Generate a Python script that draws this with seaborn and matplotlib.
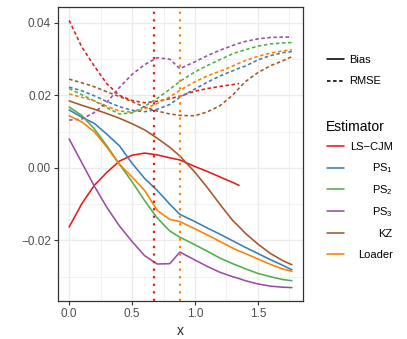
"""
Bias and RMSE of the estimators along x
"""

import numpy as np
import pandas as pd
import matplotlib
matplotlib.use("Agg")
import matplotlib.pyplot as plt
from matplotlib.lines import Line2D
import seaborn as sns

nan = np.nan

x = [0, 0.1, 0.2, 0.3, 0.4, 0.5, 0.6, 0.7, 0.8, 0.88, 1.0,
     1.1, 1.2, 1.3, 1.35, 1.4, 1.5, 1.6, 1.7, 1.77]

estimators = ["LS-CJM", "PS1", "PS2", "PS3", "KZ", "Loader"]
labels = ["LS\u2212CJM", r"$\mathregular{PS_1}$", r"$\mathregular{PS_2}$",
          r"$\mathregular{PS_3}$", "KZ", "Loader"]
colors = ["#E41A1C", "#377EB8", "#4DAF4A", "#984EA3", "#A65628", "#FF7F00"]

bias = {
    "LS-CJM": [-0.0163, -0.0099, -0.0048, -0.0012, 0.0019, 0.0035, 0.0041, 0.0036, 0.0028, 0.0022,
               0.0004, -0.0010, -0.0025, -0.0040, -0.0048, nan, nan, nan, nan, nan],
    "PS1": [0.0160, 0.0140, 0.0123, 0.0093, 0.0061, 0.0013, -0.0029, -0.0062, -0.0100, -0.0128,
            -0.0148, -0.0166, -0.0183, -0.0201, -0.0210, -0.0219, -0.0236, -0.0253, -0.0269, -0.0281],
    "PS2": [0.0168, 0.0145, 0.0108, 0.0061, 0.0010, -0.0038, -0.0090, -0.0138, -0.0174, -0.0191,
            -0.0212, -0.0230, -0.0249, -0.0264, -0.0271, -0.0278, -0.0291, -0.0300, -0.0308, -0.0311],
    "PS3": [0.0080, 0.0015, -0.0050, -0.0109, -0.0160, -0.0203, -0.0242, -0.0265, -0.0264, -0.0232,
            -0.0254, -0.0272, -0.0288, -0.0300, -0.0305, -0.0311, -0.0320, -0.0326, -0.0329, -0.0330],
    "KZ": [0.0185, 0.0173, 0.0162, 0.0150, 0.0137, 0.0122, 0.0105, 0.0082, 0.0057, 0.0033,
           -0.0012, -0.0055, -0.0101, -0.0145, -0.0162, -0.0180, -0.0210, -0.0236, -0.0256, -0.0267],
    "Loader": [0.0144, 0.0127, 0.0100, 0.0057, 0.0010, -0.0025, -0.0062, -0.0117, -0.0142, -0.0148,
               -0.0168, -0.0185, -0.0203, -0.0221, -0.0229, -0.0236, -0.0251, -0.0266, -0.0279, -0.0285],
}

rmse = {
    "LS-CJM": [0.0407, 0.0334, 0.0281, 0.0232, 0.0200, 0.0186, 0.0180, 0.0184, 0.0191, 0.0198,
               0.0212, 0.0219, 0.0225, 0.0230, 0.0233, nan, nan, nan, nan, nan],
    "PS1": [0.0223, 0.0213, 0.0199, 0.0183, 0.0169, 0.0159, 0.0155, 0.0162, 0.0175, 0.0195,
            0.0218, 0.0237, 0.0254, 0.0268, 0.0275, 0.0281, 0.0298, 0.0310, 0.0318, 0.0321],
    "PS2": [0.0219, 0.0202, 0.0185, 0.0166, 0.0149, 0.0152, 0.0170, 0.0192, 0.0217, 0.0239,
            0.0265, 0.0283, 0.0299, 0.0315, 0.0321, 0.0326, 0.0336, 0.0342, 0.0345, 0.0346],
    "PS3": [0.0132, 0.0135, 0.0153, 0.0181, 0.0222, 0.0258, 0.0285, 0.0304, 0.0300, 0.0274,
            0.0293, 0.0310, 0.0325, 0.0338, 0.0344, 0.0349, 0.0356, 0.0360, 0.0361, 0.0361],
    "KZ": [0.0245, 0.0235, 0.0224, 0.0210, 0.0197, 0.0183, 0.0168, 0.0157, 0.0149, 0.0145,
           0.0144, 0.0155, 0.0172, 0.0201, 0.0220, 0.0238, 0.0263, 0.0282, 0.0296, 0.0307],
    "Loader": [0.0204, 0.0195, 0.0185, 0.0170, 0.0157, 0.0154, 0.0163, 0.0178, 0.0196, 0.0214,
               0.0238, 0.0254, 0.0267, 0.0281, 0.0289, 0.0296, 0.0308, 0.0317, 0.0323, 0.0326],
}

# selected x for LS-CJM and Loader (vertical dotted lines)
vline_x = [0.672, 0.878]
vline_colors = ["#E41A1C", "#FF7F00"]

# long format table
rows = []
for measure, d in [("Bias", bias), ("RMSE", rmse)]:
    for est in estimators:
        for xi, v in zip(x, d[est]):
            rows.append((xi, v, est, measure))
df = pd.DataFrame(rows, columns=["x", "value", "Estimator", "Measure"]).dropna()

sns.set_style("white")
plt.rcParams["font.family"] = ["Liberation Sans", "DejaVu Sans"]
plt.rcParams["mathtext.fontset"] = "custom"
plt.rcParams["mathtext.rm"] = "Liberation Sans"

W, H = 407, 339
fig = plt.figure(figsize=(W / 100, H / 100), dpi=100)
ax = fig.add_axes([58 / W, 1 - 301 / H, 245 / W, 294 / H])

dash = (2.2, 1.6)
lw = 1.15
sns.lineplot(data=df, x="x", y="value", hue="Estimator", style="Measure",
             hue_order=estimators, palette=colors,
             dashes={"Bias": "", "RMSE": dash}, estimator=None,
             linewidth=lw, legend=False, ax=ax)

for xv, c in zip(vline_x, vline_colors):
    ax.axvline(xv, color=c, lw=1.6, ls=(0, (1, 2.4)), zorder=3)

ax.set_xlim(-0.0885, 1.8585)
ax.set_ylim(-0.0367, 0.0444)
ax.set_xticks([0, 0.5, 1.0, 1.5])
ax.set_xticklabels(["0.0", "0.5", "1.0", "1.5"])
ax.set_yticks([-0.02, 0, 0.02, 0.04])
ax.set_yticklabels(["\u22120.02", "0.00", "0.02", "0.04"])
ax.set_xticks([0.25, 0.75, 1.25, 1.75], minor=True)
ax.set_yticks([-0.03, -0.01, 0.01, 0.03], minor=True)
ax.grid(which="major", color="#EBEBEB", lw=1.0)
ax.grid(which="minor", color="#EBEBEB", lw=0.5)
ax.set_axisbelow(True)
for s in ax.spines.values():
    s.set_color("#333333")
    s.set_linewidth(0.9)
ax.tick_params(which="major", length=3, width=0.8, color="#333333",
               labelsize=8.5, labelcolor="#4D4D4D", pad=2, bottom=True, left=True)
ax.tick_params(which="minor", length=0)
ax.set_xlabel("x", fontsize=10, labelpad=3)
ax.set_ylabel("")


# legends drawn as keys + labels in figure pixels
def key(y, color, ls="-"):
    fig.add_artist(Line2D([326.7 / W, 344 / W], [1 - y / H, 1 - y / H], color=color,
                          lw=lw, ls=ls, transform=fig.transFigure))


def label(xp, y, s, ha="left", size=8):
    fig.text(xp / W, 1 - (y + 4) / H, s, ha=ha, va="baseline", fontsize=size, color="black")


for y, name, ls in [(59.3, "Bias", "-"), (80.5, "RMSE", (0, dash))]:
    key(y, "black", ls)
    label(349, y, name)

label(325.5, 126.5, "Estimator", size=10)
for i, (c, s) in enumerate(zip(colors, labels)):
    y = 146 + i * 21.65
    key(y, c)
    label(392.7, y, s, ha="right")

fig.savefig("out.png", dpi=100)
